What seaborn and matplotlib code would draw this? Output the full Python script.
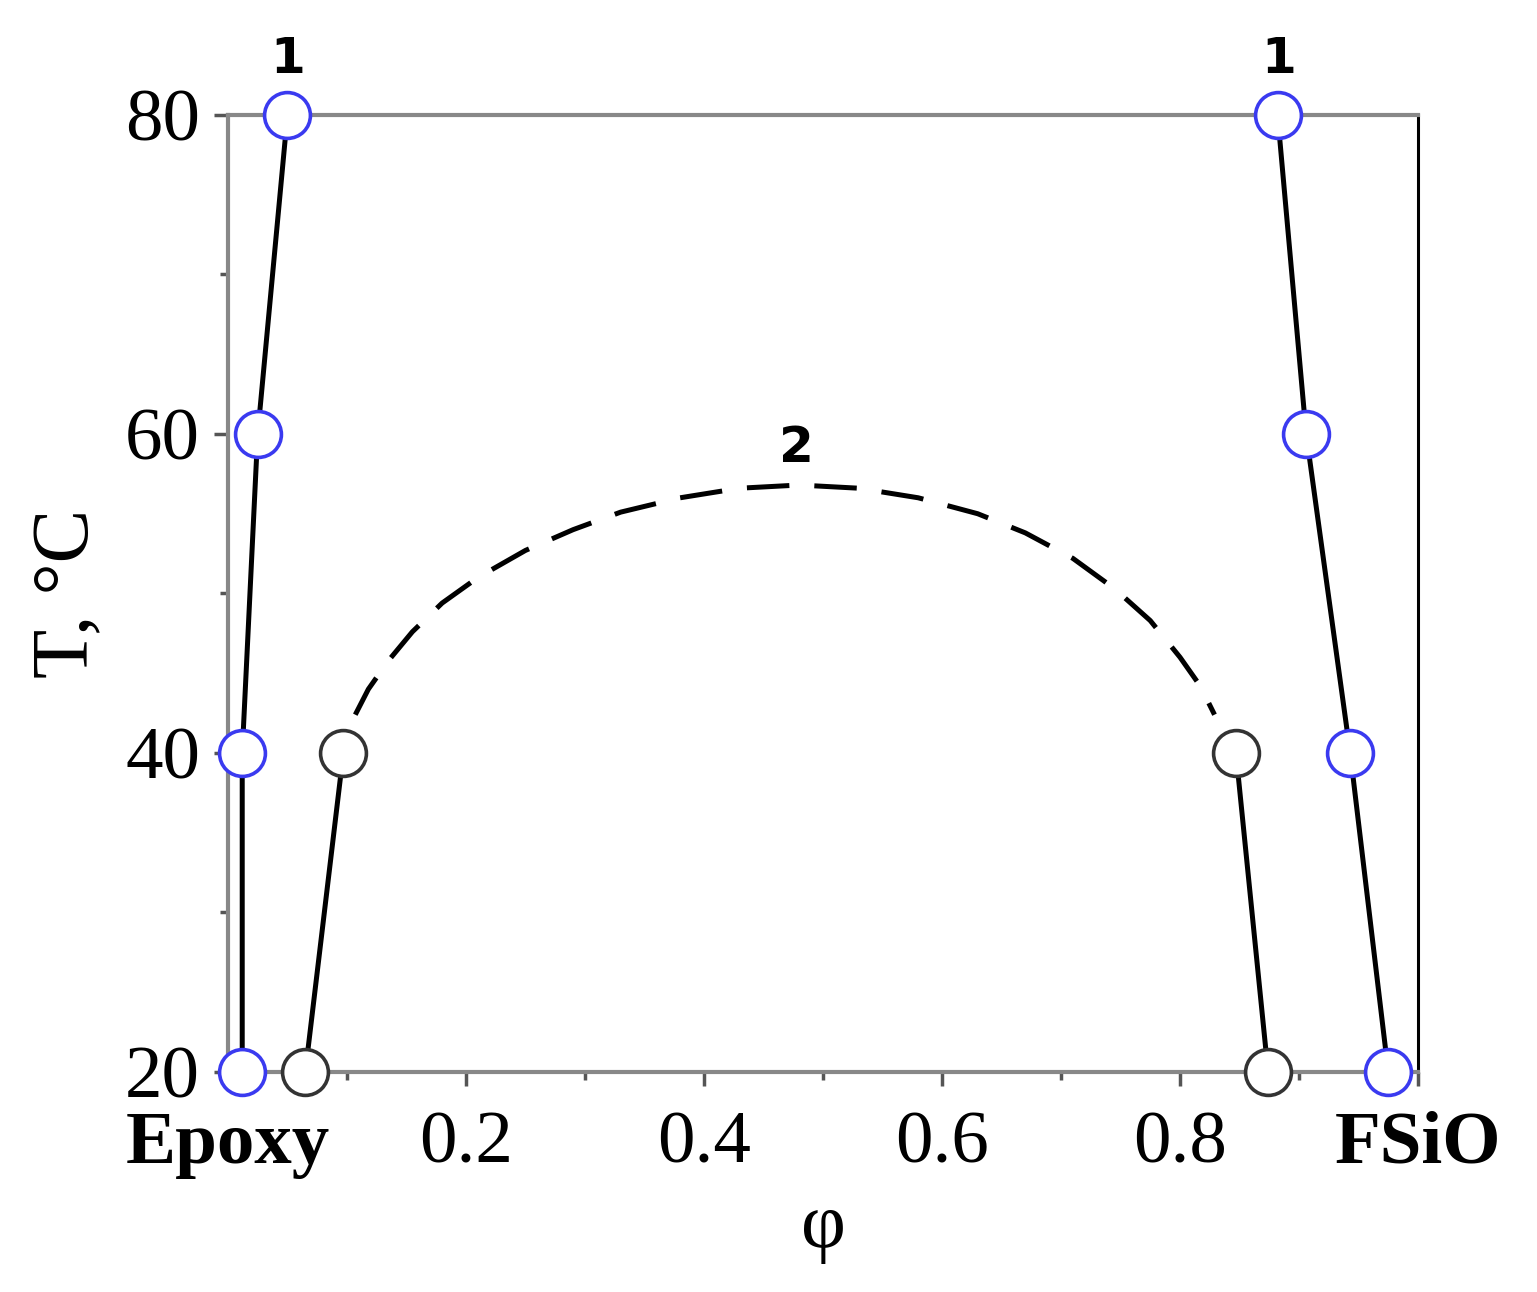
import matplotlib
matplotlib.use("Agg")
import matplotlib.pyplot as plt
import seaborn as sns
import pandas as pd

sns.set_theme(style="white")
plt.rcParams['font.family'] = ['Liberation Serif', 'DejaVu Serif']
plt.rcParams['text.color'] = 'black'
plt.rcParams['axes.labelcolor'] = 'black'

# Binodal curves 1 (blue markers)
left1_phi = [0.050, 0.025, 0.012, 0.012]
left1_T = [80, 60, 40, 20]
right1_phi = [0.882, 0.906, 0.943, 0.975]
right1_T = [80, 60, 40, 20]
# Curves with black markers
inner_left_phi = [0.065, 0.097]
inner_left_T = [20, 40]
inner_right_phi = [0.847, 0.874]
inner_right_T = [40, 20]
# Dashed curve 2
dash_phi = [0.107, 0.118, 0.135, 0.155, 0.180, 0.210, 0.250, 0.290, 0.330, 0.380,
            0.430, 0.480, 0.530, 0.580, 0.630, 0.670, 0.710, 0.745, 0.775, 0.800, 0.817, 0.829]
dash_T = [42.4, 44.0, 45.8, 47.6, 49.4, 51.0, 52.7, 54.0, 55.1, 56.0,
          56.6, 56.8, 56.6, 56.0, 55.0, 53.8, 52.2, 50.3, 48.3, 46.0, 44.2, 42.4]

x_ticks = [0.0, 0.2, 0.4, 0.6, 0.8, 1.0]
x_labels = ["Epoxy", "0.2", "0.4", "0.6", "0.8", "FSiO"]
y_ticks = [20, 40, 60, 80]

fig = plt.figure(figsize=(15.37, 12.92), dpi=100)
ax = fig.add_axes([0.1483, 0.1703, 0.9226 - 0.1483, 0.911 - 0.1703])

lw = 3.6
ms = 33
mew = 2.6

sns.lineplot(x=dash_phi, y=dash_T, ax=ax, sort=False, estimator=None, color="black", lw=lw,
             linestyle=(0, (8.5, 5)), zorder=2)

for xs, ys, mec in [(left1_phi, left1_T, "#3a3af0"), (right1_phi, right1_T, "#3a3af0"),
                    (inner_left_phi, inner_left_T, "#333333"), (inner_right_phi, inner_right_T, "#333333")]:
    sns.lineplot(x=xs, y=ys, ax=ax, sort=False, estimator=None, color="black", lw=lw, marker="o",
                 markersize=ms, markerfacecolor="white", markeredgecolor=mec,
                 markeredgewidth=mew, zorder=3, clip_on=False)

ax.set_xlim(0, 1)
ax.set_ylim(20, 80)
ax.set_xticks(x_ticks)
ax.set_xticklabels(x_labels)
for lbl in ax.get_xticklabels():
    if lbl.get_text() in ("Epoxy", "FSiO"):
        lbl.set_fontweight("bold")
ax.set_yticks(y_ticks)
ax.set_xticks([0.1, 0.3, 0.5, 0.7, 0.9], minor=True)
ax.set_yticks([30, 50, 70], minor=True)
ax.tick_params(axis="x", which="major", direction="out", length=10, width=2.5,
               colors="#555555", labelcolor="black", labelsize=54, pad=18, bottom=True)
ax.tick_params(axis="y", which="major", direction="out", length=10, width=2.5,
               colors="#555555", labelcolor="black", labelsize=54, pad=10, left=True)
ax.tick_params(axis="both", which="minor", direction="out", length=6, width=2.5,
               colors="#555555", bottom=True, left=True)

for side in ["left", "top", "bottom"]:
    ax.spines[side].set_color("#888888")
    ax.spines[side].set_linewidth(3)
ax.spines["right"].set_color("black")
ax.spines["right"].set_linewidth(2.2)

ax.set_xlabel("φ", fontsize=56, labelpad=10)
ax.set_ylabel("T, °C", fontsize=58, labelpad=14)

ax.text(0.05, 82.0, "1", fontsize=36, fontweight="bold", family="DejaVu Sans",
        ha="center", va="bottom", color="black")
ax.text(0.883, 82.0, "1", fontsize=36, fontweight="bold", family="DejaVu Sans",
        ha="center", va="bottom", color="black")
ax.text(0.478, 57.6, "2", fontsize=36, fontweight="bold", family="DejaVu Sans",
        ha="center", va="bottom", color="black")

ax.grid(False)
fig.savefig("out.png", dpi=100, facecolor="white")
